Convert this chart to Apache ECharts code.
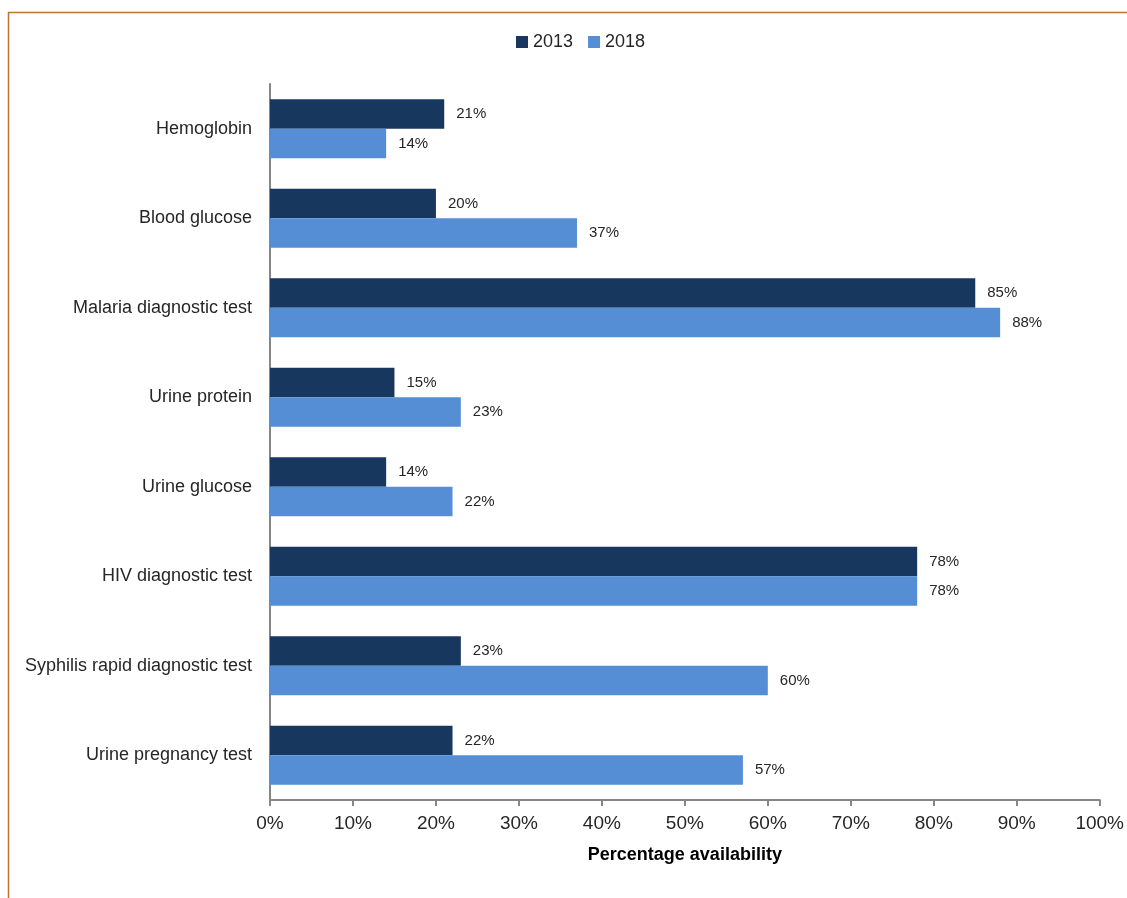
<!DOCTYPE html>
<html><head><meta charset="utf-8">
<script src="https://cdn.jsdelivr.net/npm/echarts@6/dist/echarts.min.js"></script>
<style>html,body{margin:0;padding:0;background:#fff}#c{width:1127px;height:898px}</style>
</head><body><div id="c"></div>
<script>
const categories = ["Hemoglobin","Blood glucose","Malaria diagnostic test","Urine protein","Urine glucose","HIV diagnostic test","Syphilis rapid diagnostic test","Urine pregnancy test"];
const values2013 = [21,20,85,15,14,78,23,22];
const values2018 = [14,37,88,23,22,78,60,57];
const seriesNames = ["2013","2018"];
const chart = echarts.init(document.getElementById('c'));
const font = '"Liberation Sans", Arial, sans-serif';
chart.setOption({
  animation:false,
  textStyle:{fontFamily:font},
  legend:{top:28,left:511,itemWidth:12,itemHeight:12,itemGap:15,icon:'rect',
    textStyle:{fontSize:18,color:'#262626',fontFamily:font},data:seriesNames},
  grid:{left:270,right:26,top:84,bottom:98,containLabel:false},
  xAxis:{type:'value',min:0,max:100,interval:10,
    axisLine:{show:true,lineStyle:{color:'#868686',width:2}},
    axisTick:{show:true,length:6,lineStyle:{color:'#868686',width:2}},
    splitLine:{show:false},
    axisLabel:{formatter:'{value}%',fontSize:19,color:'#262626',margin:14,fontFamily:font},
    name:'Percentage availability',nameLocation:'middle',nameGap:46,
    nameTextStyle:{fontSize:18,fontWeight:'bold',color:'#000',fontFamily:font}},
  yAxis:{type:'category',data:categories,inverse:true,
    axisLine:{show:true,lineStyle:{color:'#868686',width:2}},
    axisTick:{show:false},
    axisLabel:{fontSize:18,color:'#262626',margin:18,fontFamily:font}},
  series:[
    {name:seriesNames[0],type:'bar',data:values2013,barGap:'0%',barCategoryGap:'34%',
     itemStyle:{color:'#17375E'},
     label:{show:true,position:'right',distance:12,formatter:'{c}%',fontSize:15,color:'#262626',fontFamily:font}},
    {name:seriesNames[1],type:'bar',data:values2018,
     itemStyle:{color:'#558ED5'},
     label:{show:true,position:'right',distance:12,formatter:'{c}%',fontSize:15,color:'#262626',fontFamily:font}}
  ],
  graphic:[
    {type:'line',shape:{x1:8,y1:12.5,x2:1127,y2:12.5},style:{stroke:'#C0722F',lineWidth:1.5},silent:true},
    {type:'line',shape:{x1:8.5,y1:12,x2:8.5,y2:898},style:{stroke:'#C0722F',lineWidth:1.5},silent:true}
  ]
});
</script></body></html>
